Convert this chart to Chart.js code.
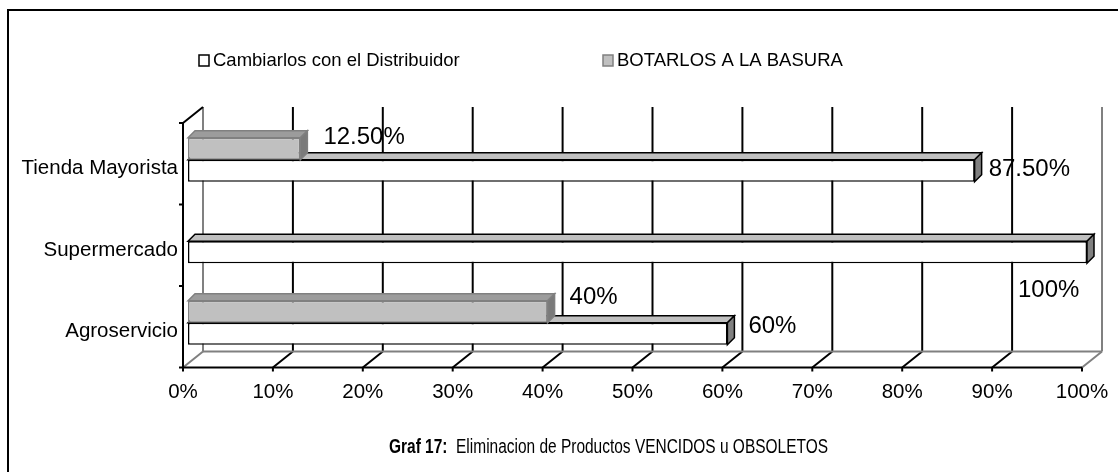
<!DOCTYPE html>
<html>
<head>
<meta charset="utf-8">
<script src="https://cdn.jsdelivr.net/npm/chart.js"></script>
<style>
  html, body { margin: 0; padding: 0; background: #fff; }
  #wrap { width: 1118px; height: 472px; }
</style>
</head>
<body>
<div id="wrap"><canvas id="chart" width="1118" height="472"></canvas></div>
<script>
const categories = ['Tienda Mayorista', 'Supermercado', 'Agroservicio'];
const seriesNames = ['BOTARLOS A LA BASURA', 'Cambiarlos con el Distribuidor'];
const botarlos = [12.5, 0, 40];
const cambiarlos = [87.5, 100, 60];
const xTicks = [0, 10, 20, 30, 40, 50, 60, 70, 80, 90, 100];

// where each value label sits relative to its bar end (px)
const labelNudge = [
  [[23, -11], null, [22, -14]],
  [[14, -1], [-69, 38], [21, -7]]
];

const FONT = '"Liberation Sans", Arial, sans-serif';
const front = { dx: -5, dy: 4 };
const back = { dx: 15, dy: -12 };
const depth = 7;

const faces = [
  { front: '#c0c0c0', top: '#9c9c9c', side: '#7a7a7a', edge: '#808080' },
  { front: '#ffffff', top: '#c0c0c0', side: '#808080', edge: '#000000' }
];

function fmt(v) {
  return Number.isInteger(v) ? v + '%' : v.toFixed(2) + '%';
}

function line(ctx, x1, y1, x2, y2, color) {
  ctx.strokeStyle = color;
  ctx.beginPath();
  ctx.moveTo(x1, y1);
  ctx.lineTo(x2, y2);
  ctx.stroke();
}

const walls = {
  id: 'walls',
  beforeDatasetsDraw(chart) {
    const ctx = chart.ctx, xs = chart.scales.x, ca = chart.chartArea;
    ctx.save();
    ctx.lineWidth = 2;
    const fb = ca.bottom + front.dy, bb = ca.bottom + back.dy;
    const ft = ca.top + front.dy, bt = ca.top + back.dy;
    xTicks.forEach(v => {
      const p = xs.getPixelForValue(v);
      const edge = v === 0 || v === 100;
      line(ctx, p + back.dx, bt, p + back.dx, bb, edge ? '#808080' : '#000');
      line(ctx, p + front.dx, fb, p + back.dx, bb, edge ? '#808080' : '#000');
      line(ctx, p + front.dx, fb, p + front.dx, fb + 4, '#000');
    });
    const p0 = xs.getPixelForValue(0), p1 = xs.getPixelForValue(100);
    line(ctx, p0 + back.dx, bb, p1 + back.dx, bb, '#808080');
    line(ctx, p0 + front.dx, fb, p1 + front.dx, fb, '#000');
    line(ctx, p0 + front.dx, ft, p0 + front.dx, fb, '#000');
    line(ctx, p0 + front.dx, ft, p0 + back.dx, bt, '#000');
    for (let k = 0; k <= categories.length; k++) {
      const y = ca.top + k * ca.height / categories.length + front.dy;
      line(ctx, p0 + front.dx - 4, y, p0 + front.dx, y, '#000');
    }
    ctx.restore();
  },
  afterDatasetDraw(chart, args) {
    const ctx = chart.ctx;
    const f = faces[args.index];
    ctx.save();
    ctx.lineWidth = 1.5;
    ctx.strokeStyle = f.edge;
    args.meta.data.forEach(bar => {
      if (Math.abs(bar.x - bar.base) < 1) return;
      const top = bar.y - bar.height / 2, bot = bar.y + bar.height / 2;
      ctx.fillStyle = f.top;
      ctx.beginPath();
      ctx.moveTo(bar.base, top);
      ctx.lineTo(bar.base + depth, top - depth);
      ctx.lineTo(bar.x + depth, top - depth);
      ctx.lineTo(bar.x, top);
      ctx.closePath();
      ctx.fill(); ctx.stroke();
      ctx.fillStyle = f.side;
      ctx.beginPath();
      ctx.moveTo(bar.x, top);
      ctx.lineTo(bar.x + depth, top - depth);
      ctx.lineTo(bar.x + depth, bot - depth);
      ctx.lineTo(bar.x, bot);
      ctx.closePath();
      ctx.fill(); ctx.stroke();
    });
    ctx.restore();
  },
  afterDraw(chart) {
    const ctx = chart.ctx;
    ctx.save();
    // value labels
    ctx.fillStyle = '#000';
    ctx.font = '24px ' + FONT;
    ctx.textBaseline = 'middle';
    ctx.textAlign = 'left';
    chart.data.datasets.forEach((ds, di) => {
      chart.getDatasetMeta(di).data.forEach((bar, i) => {
        const n = labelNudge[di][i];
        if (!n) return;
        ctx.fillText(fmt(ds.data[i]), bar.x + n[0], bar.y + n[1]);
      });
    });
    // legend
    ctx.font = '18.5px ' + FONT;
    const legendItems = [
      { x: 199, name: seriesNames[1], f: faces[1] },
      { x: 603, name: seriesNames[0], f: faces[0] }
    ];
    ctx.lineWidth = 1.5;
    legendItems.forEach(it => {
      ctx.fillStyle = it.f.front;
      ctx.strokeStyle = it.f.edge;
      ctx.fillRect(it.x, 55, 10, 11);
      ctx.strokeRect(it.x, 55, 10, 11);
      ctx.fillStyle = '#000';
      ctx.fillText(it.name, it.x + 14, 61);
    });
    // caption
    const bold = 'Graf 17:', rest = '  Eliminacion de Productos VENCIDOS u OBSOLETOS';
    ctx.font = 'bold 20px ' + FONT;
    const wb = ctx.measureText(bold).width;
    ctx.font = '20px ' + FONT;
    const wr = ctx.measureText(rest).width;
    ctx.save();
    ctx.translate(389, 447);
    ctx.scale(439 / (wb + wr), 1);
    ctx.font = 'bold 20px ' + FONT;
    ctx.fillText(bold, 0, 0);
    ctx.font = '20px ' + FONT;
    ctx.fillText(rest, wb, 0);
    ctx.restore();
    // frame
    ctx.lineWidth = 2;
    ctx.strokeStyle = '#000';
    ctx.beginPath();
    ctx.moveTo(8, 480);
    ctx.lineTo(8, 10);
    ctx.lineTo(1130, 10);
    ctx.stroke();
    ctx.restore();
  }
};

new Chart(document.getElementById('chart'), {
  type: 'bar',
  data: {
    labels: categories,
    datasets: [
      {
        label: seriesNames[0],
        data: botarlos,
        backgroundColor: faces[0].front,
        borderColor: faces[0].edge,
        borderWidth: 1.5,
        borderSkipped: false
      },
      {
        label: seriesNames[1],
        data: cambiarlos,
        backgroundColor: faces[1].front,
        borderColor: faces[1].edge,
        borderWidth: 1.5,
        borderSkipped: false
      }
    ]
  },
  options: {
    indexAxis: 'y',
    responsive: false,
    animation: false,
    categoryPercentage: 0.54,
    barPercentage: 1,
    layout: { padding: { top: 119, right: 31, bottom: 0, left: 0 } },
    plugins: {
      legend: { display: false },
      title: { display: false },
      tooltip: { enabled: false }
    },
    scales: {
      x: {
        min: 0,
        max: 100,
        afterFit: s => { s.height = 108.5; s.paddingLeft = 0; s.paddingRight = 0; },
        afterBuildTicks: s => { s.ticks = xTicks.map(v => ({ value: v })); },
        grid: { display: false, drawTicks: false },
        border: { display: false },
        ticks: {
          padding: 17,
          labelOffset: -5,
          color: '#000',
          font: { family: FONT, size: 20.5 },
          callback: v => v + '%'
        }
      },
      y: {
        afterFit: s => { s.width = 188; s.paddingTop = 0; s.paddingBottom = 0; },
        grid: { display: false, drawTicks: false },
        border: { display: false },
        ticks: {
          padding: 10,
          labelOffset: 9,
          color: '#000',
          font: { family: FONT, size: 20.5 }
        }
      }
    }
  },
  plugins: [walls]
});
</script>
</body>
</html>
